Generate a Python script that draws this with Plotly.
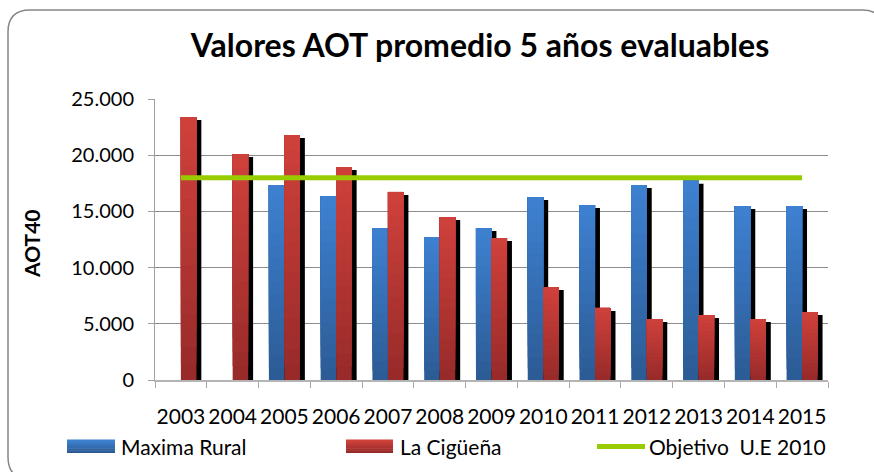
import plotly.graph_objects as go

# ---- data -------------------------------------------------------------
years = ["2003", "2004", "2005", "2006", "2007", "2008", "2009",
         "2010", "2011", "2012", "2013", "2014", "2015"]
maxima_rural = [None, None, 17350, 16370, 13520, 12720, 13520,
                16280, 15570, 17350, 17730, 15480, 15480]
la_ciguena = [23400, 20100, 21800, 18950, 16730, 14500, 12630,
              8270, 6410, 5430, 5780, 5430, 6050]
objetivo_ue_2010 = [18000, 18000, 18000, 18000, 18000, 18000, 18000,
                    18000, 18000, 18000, 18000, 18000, 18000]
y_ticks = [0, 5000, 10000, 15000, 20000, 25000]

# ---- geometry / style ---------------------------------------------------
W, H = 874, 472
M_L, M_R, M_T, M_B = 155, 46, 99, 92
PLOT_W = W - M_L - M_R
PLOT_H = H - M_T - M_B
Y_MAX = 25000

BAR_W = 0.30
SHADOW_DX = 0.095          # category units
SHADOW_DY = 270            # value units
N_STEPS = 16

BLUE_TOP, BLUE_BOTTOM = (61, 128, 208), (44, 92, 150)
RED_TOP, RED_BOTTOM = (206, 64, 58), (152, 43, 42)
GREEN = "#99CC00"
FONT = "Lato"


def px_x(px):
    return (px - M_L) / PLOT_W


def px_y(py):
    return (H - M_B - py) / PLOT_H


def blend(c0, c1, t):
    return "rgb({},{},{})".format(*[round(a + (b - a) * t) for a, b in zip(c0, c1)])


fig = go.Figure()


def add_series(values, offset, bottom_rgb, top_rgb):
    # drop shadow behind the bar
    fig.add_bar(
        x=years,
        y=[None if v is None else v - SHADOW_DY for v in values],
        offset=offset + SHADOW_DX, width=BAR_W,
        marker=dict(color="black", line_width=0),
        showlegend=False, hoverinfo="skip",
    )
    # vertical gradient built from overlapping layers
    for k in range(N_STEPS):
        f = k / N_STEPS
        fig.add_bar(
            x=years,
            y=[None if v is None else v * (1 - f) for v in values],
            base=[None if v is None else v * f for v in values],
            offset=offset, width=BAR_W,
            marker=dict(color=blend(bottom_rgb, top_rgb, k / (N_STEPS - 1)), line_width=0),
            showlegend=False, hoverinfo="skip",
        )


add_series(maxima_rural, -BAR_W, BLUE_BOTTOM, BLUE_TOP)
add_series(la_ciguena, 0.0, RED_BOTTOM, RED_TOP)

fig.add_scatter(
    x=years, y=objetivo_ue_2010, mode="lines",
    line=dict(color=GREEN, width=5),
    showlegend=False, hoverinfo="skip",
)

# ---- rounded chart frame ------------------------------------------------
L, T, R, B, r = 8, 10, 884, 479, 22
frame = (
    f"M {px_x(L)} {px_y(T + r)} Q {px_x(L)} {px_y(T)} {px_x(L + r)} {px_y(T)} "
    f"L {px_x(R - r)} {px_y(T)} Q {px_x(R)} {px_y(T)} {px_x(R)} {px_y(T + r)} "
    f"L {px_x(R)} {px_y(B - r)} Q {px_x(R)} {px_y(B)} {px_x(R - r)} {px_y(B)} "
    f"L {px_x(L + r)} {px_y(B)} Q {px_x(L)} {px_y(B)} {px_x(L)} {px_y(B - r)} Z"
)
shapes = [dict(type="path", xref="paper", yref="paper", path=frame,
               line=dict(color="#868686", width=1.5), layer="below")]

# ---- legend drawn below the axis -----------------------------------------
annotations = []
legend_y = 446.5


def swatch(x0, x1, bottom_rgb, top_rgb):
    n = 6
    y0, y1 = 440, 453
    for i in range(n):
        ya = y1 - (y1 - y0) * i / n
        yb = y1 - (y1 - y0) * (i + 1) / n
        shapes.append(dict(type="rect", xref="paper", yref="paper",
                           x0=px_x(x0), x1=px_x(x1), y0=px_y(ya), y1=px_y(yb - 0.5),
                           fillcolor=blend(bottom_rgb, top_rgb, i / (n - 1)),
                           line=dict(width=0)))


def legend_text(x, text):
    annotations.append(dict(xref="paper", yref="paper", x=px_x(x), y=px_y(legend_y),
                            xanchor="left", yanchor="middle", showarrow=False,
                            text=text, font=dict(family=FONT, size=21, color="black")))


swatch(67, 115, BLUE_BOTTOM, BLUE_TOP)
legend_text(119, "Maxima Rural")
swatch(346, 393, RED_BOTTOM, RED_TOP)
legend_text(398, "La Cigüeña")
shapes.append(dict(type="line", xref="paper", yref="paper",
                   x0=px_x(597), x1=px_x(645), y0=px_y(legend_y), y1=px_y(legend_y),
                   line=dict(color=GREEN, width=5)))
legend_text(647, "Objetivo&nbsp; U.E 2010")

annotations.append(dict(xref="paper", yref="paper", x=px_x(31), y=px_y(243),
                        xanchor="center", yanchor="middle", showarrow=False,
                        textangle=-90, text="<b>AOT40</b>",
                        font=dict(family=FONT, size=21, color="black")))

fig.update_layout(
    width=W, height=H,
    margin=dict(l=M_L, r=M_R, t=M_T, b=M_B, pad=0),
    paper_bgcolor="white", plot_bgcolor="white",
    barmode="overlay",
    separators=",.",
    showlegend=False,
    title=dict(text="<b>Valores AOT promedio 5 años evaluables</b>",
               x=px_x(480), xref="paper", xanchor="center",
               y=1 - 46 / H, yref="container", yanchor="middle",
               font=dict(family=FONT, size=32, color="black")),
    shapes=shapes,
    annotations=annotations,
    font=dict(family=FONT, color="black"),
)

fig.update_xaxes(
    type="category", categoryorder="array", categoryarray=years,
    showgrid=False, showline=True, linecolor="#b4b4b4", linewidth=2,
    ticks="outside", tickson="boundaries", ticklen=6, tickcolor="#a8a8a8",
    tickangle=0,
    tickfont=dict(family=FONT, size=21, color="black"),
    ticklabelstandoff=17,
    fixedrange=True,
)
fig.update_yaxes(
    range=[0, Y_MAX], tickvals=y_ticks, tickformat=",d",
    showgrid=True, gridcolor="#8c8c8c", gridwidth=1,
    showline=True, linecolor="#a0a0a0", linewidth=1,
    ticks="outside", ticklen=6, tickcolor="#a0a0a0",
    tickfont=dict(family=FONT, size=20, color="black"),
    ticklabelstandoff=10,
    zeroline=False, fixedrange=True,
)

fig.write_html("out.html")
